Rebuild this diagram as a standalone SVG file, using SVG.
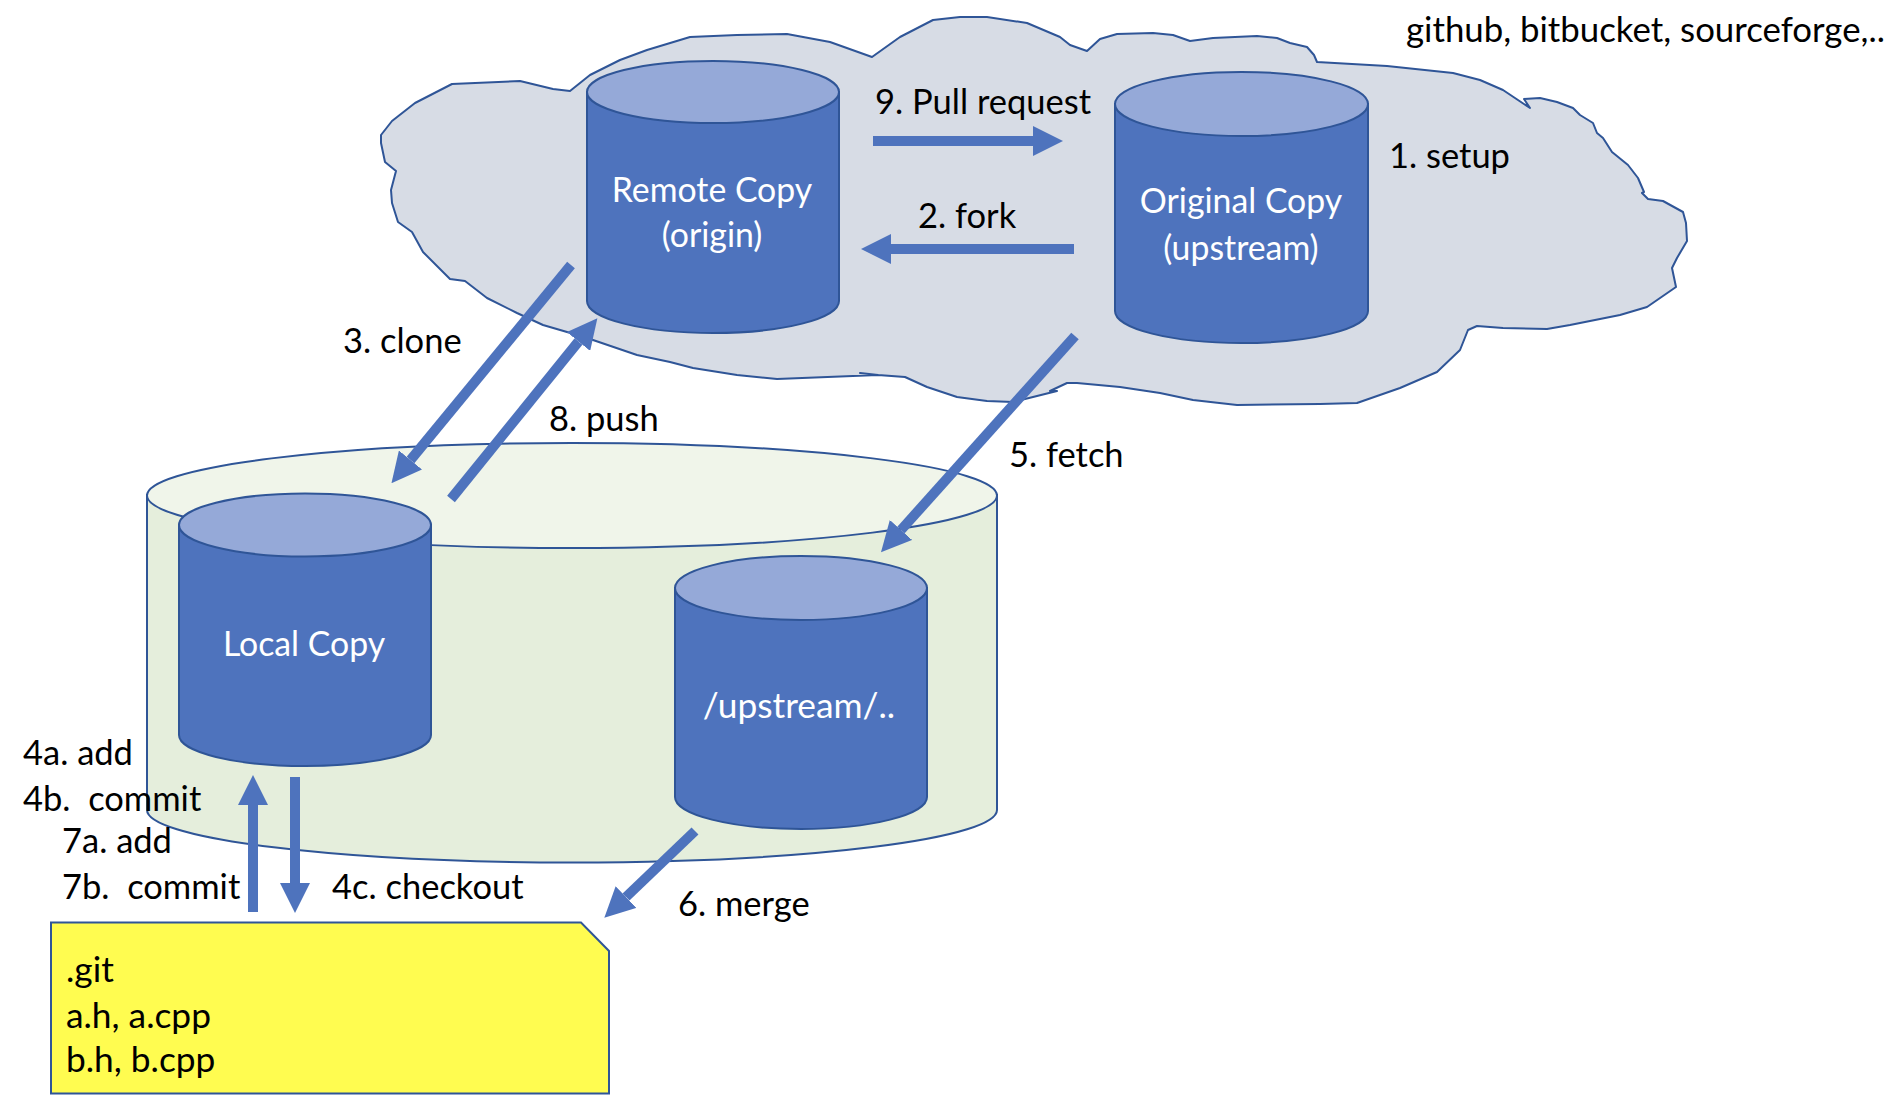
<svg xmlns="http://www.w3.org/2000/svg" width="1894" height="1100" viewBox="0 0 1894 1100">
<style>
text{font-family:"Lato","Liberation Sans",sans-serif;font-size:34.500px;fill:#000;white-space:pre}
.w{fill:#fff;text-anchor:middle;font-size:33.800px}
.f{font-size:35.300px}
.body{fill:#4e73bd;stroke:#2f5597;stroke-width:2}
.top{fill:#95a9d8;stroke:#2f5597;stroke-width:2}
.conn{stroke:#4e73bd;stroke-width:10;fill:none;marker-end:url(#head)}
</style>
<defs><marker id="head" markerUnits="strokeWidth" markerWidth="3" markerHeight="3" refX="0" refY="1.5" orient="auto"><path d="M0,0L3,1.5L0,3z" fill="#4e73bd"/></marker></defs>
<g id="machine"><path d="M147,495V810A425,52.500 0 0 0 997,810V495z" fill="#e5eedc" stroke="#2f5597" stroke-width="2"/><ellipse cx="572" cy="495.500" rx="425" ry="52.500" fill="#f0f5ea" stroke="#2f5597" stroke-width="2"/></g>
<g id="cloud"><path d="M570,91L590,75L620,60L647,50L690,37L737,35L787,34L830,42L872,57L900,37L933,20L960,17L987,17L1027,23L1060,37L1070,45L1087,51L1100,39L1117,34L1153,33L1173,35L1190,41L1213,38L1257,36L1277,38L1290,43L1307,47L1314,55L1317,62L1387,66L1453,73L1480,80L1503,90L1530,108L1524,99L1540,98L1557,102L1573,108L1580,115L1593,123L1597,133L1603,138L1612,152L1628,165L1638,178L1644,192L1642,193L1648,199L1663,201L1683,212L1686,223L1687,241L1677,258L1672,268L1676,287L1647,307L1620,315L1570,325L1547,329L1503,328L1477,326L1468,330L1460,350L1437,372L1400,388L1357,403L1320,404L1237,405L1193,400L1160,393L1120,387L1077,383L1067,383L1050,391L1057,391L1033,397L1013,402L987,401L957,397L927,387L905,377L878,375L860,373L878,375L777,379L737,375L693,368L670,362L637,355L593,340L567,332L543,325L517,313L487,298L465,281L450,279L423,252L412,232L398,222L392,203L391,190L396,171L385,162L381,143L381,135L392,121L415,103L452,84L520,81L553,89z" fill="#d7dce5" stroke="#2f5597" stroke-width="2" stroke-linejoin="round"/>
<text x="1406" y="42" style="font-size:34.800px">github, bitbucket, sourceforge,..</text><text x="1389" y="168">1. setup</text></g>
<g id="remote"><path class="body" d="M587,92V301A126,32 0 0 0 839,301V92z"/><ellipse class="top" cx="713" cy="92" rx="126" ry="31"/><text class="w" x="712" y="202">Remote Copy</text><text class="w" x="712" y="247">(origin)</text></g>
<g id="original"><path class="body" d="M1115,104V311A126.500,32 0 0 0 1368,311V104z"/><ellipse class="top" cx="1241.500" cy="104" rx="126.500" ry="32"/><text class="w" x="1241" y="213">Original Copy</text><text class="w" x="1241" y="260">(upstream)</text></g>
<g id="local"><path class="body" d="M179,525V735A126,31 0 0 0 431,735V525z"/><ellipse class="top" cx="305" cy="525" rx="126" ry="31.500"/><text class="w" x="304" y="656">Local Copy</text></g>
<g id="upstream"><path class="body" d="M675,588V797A126,32 0 0 0 927,797V588z"/><ellipse class="top" cx="801" cy="588" rx="126" ry="32"/><text class="w" x="799" y="718" style="font-size:35.300px">/upstream/..</text></g>
<g id="files"><path d="M51,922.500H581L609,951V1093.500H51z" fill="#fffc50" stroke="#2f5597" stroke-width="2"/><text class="f" x="66" y="981.500">.git</text><text class="f" x="66" y="1027.500">a.h, a.cpp</text><text class="f" x="66" y="1071.500">b.h, b.cpp</text></g>
<g id="connectors">
<line class="conn" x1="873" y1="141" x2="1033" y2="141"/>
<line class="conn" x1="1074" y1="249" x2="891" y2="249"/>
<line class="conn" x1="571" y1="265" x2="410.500" y2="460"/>
<line class="conn" x1="451" y1="499" x2="578.500" y2="341.500"/>
<line class="conn" x1="1075" y1="336" x2="901" y2="530"/>
<line class="conn" x1="695" y1="831" x2="626" y2="897"/>
<line class="conn" x1="253" y1="912" x2="253" y2="805"/>
<line class="conn" x1="295" y1="777" x2="295" y2="883"/>
</g>
<g id="labels">
<text x="875" y="114">9. Pull request</text><text x="918" y="228">2. fork</text><text x="343" y="353">3. clone</text><text x="549" y="431">8. push</text><text x="1009" y="466.500">5. fetch</text>
<text x="23" y="764.500">4a. add</text><text x="23" y="810.500">4b.  commit</text><text x="62" y="852.500">7a. add</text><text x="62" y="899">7b.  commit</text><text x="332" y="899">4c. checkout</text><text x="678" y="915.500">6. merge</text>
</g>
</svg>
